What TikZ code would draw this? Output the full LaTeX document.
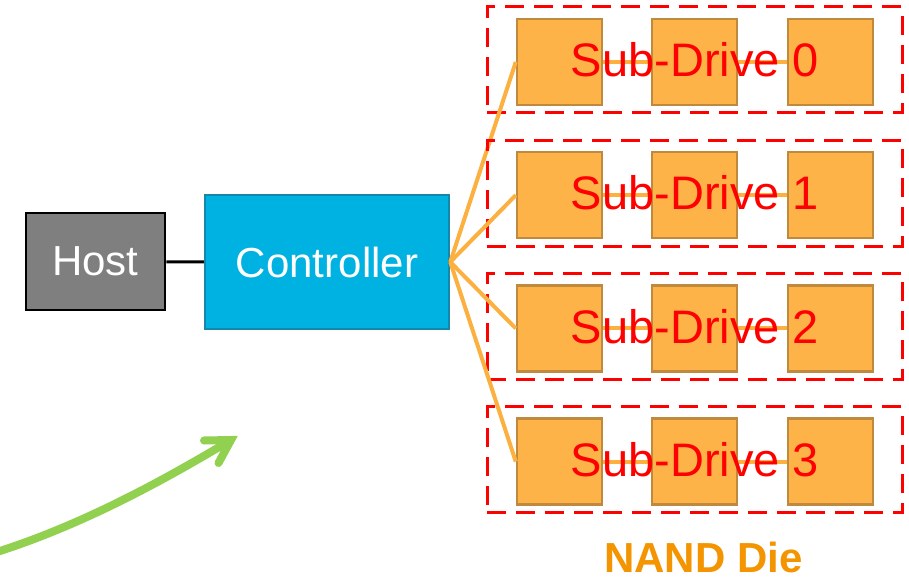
\documentclass[tikz,border=0pt]{standalone}
\usepackage{fontspec}
\setmainfont{Liberation Sans}
\definecolor{hostgray}{HTML}{7F7F7F}
\definecolor{ctrlfill}{HTML}{00B2E2}
\definecolor{ctrldraw}{HTML}{1487AA}
\definecolor{diefill}{HTML}{FDB347}
\definecolor{diedraw}{HTML}{C08A3E}
\definecolor{linkorange}{HTML}{FBB040}
\definecolor{nandorange}{HTML}{F39400}
\definecolor{arrowgreen}{HTML}{92D050}
\begin{document}
\begin{tikzpicture}[x=1pt,y=-1pt,
  hostbox/.style={draw=black, line width=2.5pt, fill=hostgray, minimum width=139pt, minimum height=97pt, inner sep=0pt, text=white, font=\fontsize{42}{50}\selectfont},
  ctrlbox/.style={draw=ctrldraw, line width=2.5pt, fill=ctrlfill, minimum width=244pt, minimum height=134pt, inner sep=0pt, text=white, font=\fontsize{42}{50}\selectfont},
  diebox/.style={draw=diedraw, line width=2.5pt, fill=diefill, minimum width=85pt, minimum height=86pt, inner sep=0pt},
  groupbox/.style={draw=red, line width=3pt, dash pattern=on 19pt off 10pt, minimum width=415pt, minimum height=106pt, inner sep=0pt},
  link/.style={draw=linkorange, line width=4pt},
  hostlink/.style={draw=black, line width=3pt},
  sdtext/.style={text=red, font=\fontsize{47}{56}\selectfont, inner sep=0pt},
  nandtext/.style={text=nandorange, font=\fontsize{42}{50}\selectfont\bfseries, inner sep=0pt},
  greenline/.style={draw=arrowgreen, line width=8pt}
]
\useasboundingbox (0,0) rectangle (909,577);

\node[hostbox] (host) at (95.5,261.7) {Host};
\node[ctrlbox] (ctrl) at (327,262) {Controller};
\draw[hostlink] (host) -- (ctrl);

\foreach \i in {0,1,2,3}{
  \node[groupbox] (g\i) at (694.5,{60+133.2*\i}) {};
  \node[diebox] (d\i a) at (559.5,{62+133.2*\i}) {};
  \node[diebox] (d\i b) at (694.5,{62+133.2*\i}) {};
  \node[diebox] (d\i c) at (830.5,{62+133.2*\i}) {};
  \draw[link] (ctrl.east) -- (d\i a.west);
  \draw[link] (d\i a) -- (d\i b);
  \draw[link] (d\i b) -- (d\i c);
  \node[sdtext] (t\i) at (695,{60+133.2*\i}) {Sub-Drive \i};
}

\node[nandtext] (nand) at (703.5,557) {NAND Die};

\coordinate (gs) at (-12,555.5);
\coordinate (g0) at (0,551);
\coordinate (gt) at (231,440);
\coordinate (ga) at (204,440.5);
\coordinate (gb) at (218.5,463);
\draw[greenline] (gs) -- (g0) .. controls (80,525) and (156,485) .. (gt);
\draw[greenline, line cap=round, line join=miter] (ga) -- (gt) -- (gb);
\end{tikzpicture}
\end{document}
